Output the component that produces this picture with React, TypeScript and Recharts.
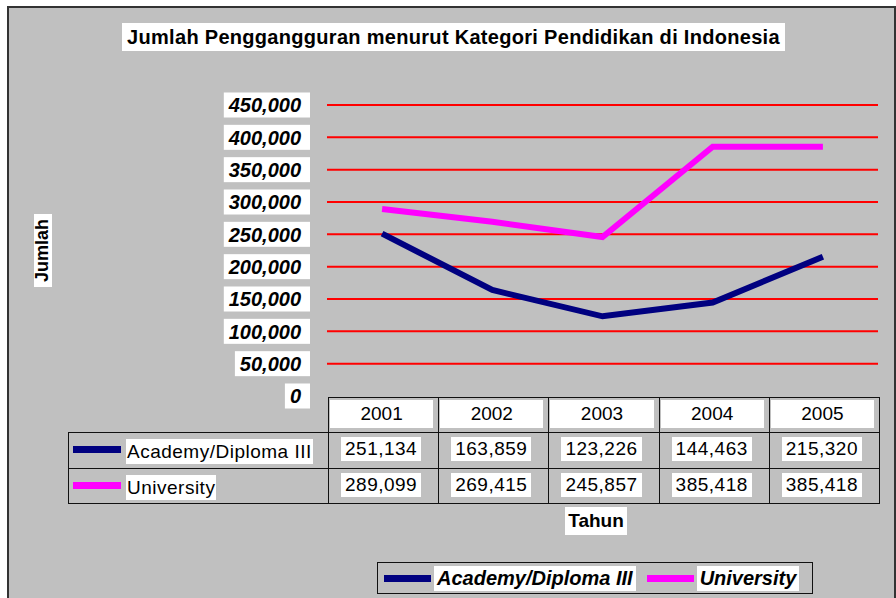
import { CartesianGrid, ComposedChart, Line, XAxis, YAxis } from "recharts"

const years = ["2001", "2002", "2003", "2004", "2005"]
const academyValues = [251134, 163859, 123226, 144463, 215320]
const universityValues = [289099, 269415, 245857, 385418, 385418]
const yTicks = [0, 50000, 100000, 150000, 200000, 250000, 300000, 350000, 400000, 450000]

const seriesKeys = ["academy", "university"]
const seriesNames = ["Academy/Diploma III", "University"]
const seriesColors = ["#000080", "#FF00FF"]
const seriesValues = [academyValues, universityValues]

const chartTitle = "Jumlah Penggangguran menurut Kategori Pendidikan di Indonesia"
const yTitle = "Jumlah"
const xTitle = "Tahun"

const FONT = '"Liberation Sans", Arial, Helvetica, sans-serif'

const chartData = years.map((year, i) => {
  const row: Record<string, any> = { year }
  seriesKeys.forEach((key, s) => {
    row[key] = seriesValues[s][i]
  })
  return row
})

const fmt = (v: number) => v.toLocaleString("en-US")

// rough text width for bold italic 20px arial digits
const tickWidth = (label: string) => {
  let w = 0
  for (const ch of label) w += ch === "," ? 5.6 : 11.1
  return w
}

function YTick(props: any) {
  const { x, y, payload } = props
  const label = fmt(payload.value)
  const w = tickWidth(label)
  const right = x - 17
  return (
    <g>
      <rect x={right - w - 14} y={y - 12.5} width={w + 14} height={25} fill="#fff" />
      <text
        x={right - 9}
        y={y}
        dy="0.36em"
        textAnchor="end"
        fontFamily={FONT}
        fontSize={20}
        fontWeight="bold"
        fontStyle="italic"
        fill="#000"
      >
        {label}
      </text>
    </g>
  )
}

// data table geometry
const colX = [68, 328, 438.2, 548.4, 658.6, 768.8, 879]
const rowY = [397, 432, 468, 503]

function DataTable() {
  const cells: any[] = []
  // header row with years
  years.forEach((year, c) => {
    const x = colX[c + 1]
    const w = colX[c + 2] - x + 1
    cells.push(
      <div
        key={"h" + c}
        style={{
          position: "absolute",
          left: x,
          top: rowY[0],
          width: w,
          height: rowY[1] - rowY[0] + 1,
          border: "1px solid #111",
          boxSizing: "border-box",
        }}
      >
        <div
          style={{
            position: "absolute",
            left: 1,
            top: 2,
            width: w - 8,
            height: 28,
            background: "#fff",
            textAlign: "center",
            lineHeight: "28px",
            fontSize: 19,
          }}
        >
          {year}
        </div>
      </div>
    )
  })
  // series rows
  seriesNames.forEach((name, r) => {
    const top = rowY[r + 1]
    const h = rowY[r + 2] - top + 1
    cells.push(
      <div
        key={"n" + r}
        style={{
          position: "absolute",
          left: colX[0],
          top,
          width: colX[1] - colX[0] + 1,
          height: h,
          border: "1px solid #111",
          boxSizing: "border-box",
        }}
      >
        <div
          style={{
            position: "absolute",
            left: 4,
            top: 13,
            width: 48,
            height: 7,
            background: seriesColors[r],
          }}
        />
        <div
          style={{
            position: "absolute",
            left: 57,
            top: 6,
            height: 25,
            lineHeight: "25px",
            padding: "0 1px",
            background: "#fff",
            fontSize: 19,
            letterSpacing: 0.5,
            whiteSpace: "nowrap",
          }}
        >
          {name}
        </div>
      </div>
    )
    seriesValues[r].forEach((v, c) => {
      const x = colX[c + 1]
      const w = colX[c + 2] - x + 1
      cells.push(
        <div
          key={"v" + r + c}
          style={{
            position: "absolute",
            left: x,
            top,
            width: w,
            height: h,
            border: "1px solid #111",
            boxSizing: "border-box",
          }}
        >
          <div
            style={{
              position: "absolute",
              left: 12,
              top: 4,
              height: 24,
              lineHeight: "24px",
              padding: "0 4px",
              background: "#fff",
              fontSize: 19,
              letterSpacing: 0.5,
              whiteSpace: "nowrap",
            }}
          >
            {fmt(v)}
          </div>
        </div>
      )
    })
  })
  return <>{cells}</>
}

function BottomLegend() {
  return (
    <div
      style={{
        position: "absolute",
        left: 377,
        top: 562,
        width: 436,
        height: 32,
        border: "1px solid #111",
        boxSizing: "border-box",
        display: "flex",
        alignItems: "center",
        paddingLeft: 6,
      }}
    >
      {seriesNames.map((name, i) => (
        <div key={name} style={{ display: "flex", alignItems: "center", marginRight: 11 }}>
          <div style={{ width: 47, height: 7, background: seriesColors[i], marginRight: 3 }} />
          <div
            style={{
              background: "#fff",
              height: 25,
              lineHeight: "25px",
              padding: "0 3px",
              fontSize: 20,
              fontWeight: "bold",
              fontStyle: "italic",
              whiteSpace: "nowrap",
            }}
          >
            {name}
          </div>
        </div>
      ))}
    </div>
  )
}

export default function App() {
  return (
    <div
      style={{
        position: "absolute",
        left: 0,
        top: 0,
        width: 896,
        height: 598,
        overflow: "hidden",
        background: "#fff",
        fontFamily: FONT,
        color: "#000",
      }}
    >
      <div
        style={{
          position: "absolute",
          left: 7,
          top: 6,
          width: 889,
          height: 640,
          border: "2px solid #333",
          boxSizing: "border-box",
          background: "#C0C0C0",
        }}
      />
      <div style={{ position: "absolute", left: 0, top: 0 }}>
        <ComposedChart
          width={896}
          height={598}
          data={chartData}
          margin={{ top: 105, right: 18, left: 227, bottom: 202 }}
        >
          <CartesianGrid
            vertical={false}
            stroke="#FF0000"
            strokeWidth={2}
            horizontalValues={yTicks.filter((t) => t > 0)}
          />
          <XAxis dataKey="year" scale="band" hide />
          <YAxis
            width={100}
            domain={[0, 450000]}
            ticks={yTicks}
            interval={0}
            axisLine={false}
            tickLine={false}
            tickSize={0}
            tickMargin={0}
            tick={<YTick />}
          />
          {seriesKeys.map((key, i) => (
            <Line
              key={key}
              dataKey={key}
              name={seriesNames[i]}
              stroke={seriesColors[i]}
              strokeWidth={6}
              dot={false}
              type="linear"
              isAnimationActive={false}
            />
          ))}
        </ComposedChart>
      </div>
      <div
        style={{
          position: "absolute",
          left: 122,
          top: 23,
          width: 663,
          height: 28,
          lineHeight: "28px",
          background: "#fff",
          textAlign: "center",
          fontSize: 20,
          fontWeight: "bold",
          letterSpacing: 0.3,
          whiteSpace: "nowrap",
        }}
      >
        {chartTitle}
      </div>
      <div
        style={{
          position: "absolute",
          left: 34,
          top: 214,
          width: 18,
          height: 73,
          background: "#fff",
          display: "flex",
          alignItems: "center",
          justifyContent: "center",
        }}
      >
        <div
          style={{
            transform: "rotate(-90deg)",
            fontSize: 18,
            fontWeight: "bold",
            whiteSpace: "nowrap",
          }}
        >
          {yTitle}
        </div>
      </div>
      <DataTable />
      <div
        style={{
          position: "absolute",
          left: 565,
          top: 507,
          width: 62,
          height: 28,
          lineHeight: "28px",
          background: "#fff",
          textAlign: "center",
          fontSize: 19,
          fontWeight: "bold",
        }}
      >
        {xTitle}
      </div>
      <BottomLegend />
    </div>
  )
}
